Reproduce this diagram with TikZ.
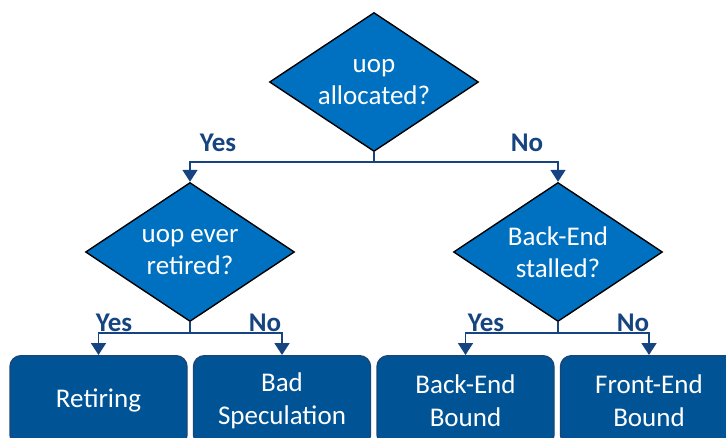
\documentclass[tikz,border=0pt]{standalone}
\usepackage{fontspec}
\setmainfont{Carlito}
\usetikzlibrary{shapes.geometric,arrows.meta,calc}
\definecolor{dfill}{RGB}{0,112,192}
\definecolor{bfill}{RGB}{0,84,150}
\definecolor{bline}{RGB}{25,70,120}
\definecolor{conn}{RGB}{22,68,128}
\tikzset{
  decision/.style={shape=diamond, draw=black, line width=1.4pt, fill=dfill, inner sep=-30pt,
    minimum width=209pt, minimum height=139pt, text=white, align=center,
    font=\fontsize{27}{32}\selectfont},
  outcome/.style={shape=rectangle, rounded corners=11pt, draw=bline, line width=1.4pt, fill=bfill,
    minimum width=177pt, minimum height=90pt, anchor=north, text=white, align=center,
    font=\fontsize{27}{33}\selectfont},
  conn/.style={draw=conn, line width=1.8pt, -{Triangle[width=15pt,length=12pt]}},
  lbl/.style={text=conn, font=\fontsize{27}{30}\selectfont\bfseries, inner sep=0pt}
}
\begin{document}
\begin{tikzpicture}[x=1pt,y=-1pt]
\useasboundingbox (0,0) rectangle (726,437);
\clip (0,0) rectangle (726,437);
% decisions
\node[decision] (d1) at (374,82) {uop\\allocated?};
\node[decision] (d2) at (190,252) {uop ever\\retired?};
\node[decision] (d3) at (558,252) {Back-End\\stalled?};
% outcomes
\node[outcome] (b1) at (98.5,355) {Retiring};
\node[outcome] (b2) at (282,355) {Bad\\Speculation};
\node[outcome] (b3) at (465.5,355) {Back-End\\Bound};
\node[outcome] (b4) at (649,355) {Front-End\\Bound};
% connectors
\coordinate (j1) at ($(d1.south)+(0,10)$);
\draw[conn] (d1.south) -- (j1) -| (d2.north);
\draw[conn] (j1) -| (d3.north);
\coordinate (j2) at ($(d2.south)+(0,11)$);
\draw[conn] (d2.south) -- (j2) -| (b1.north);
\draw[conn] (j2) -| (b2.north);
\coordinate (j3) at ($(d3.south)+(0,11)$);
\draw[conn] (d3.south) -- (j3) -| (b3.north);
\draw[conn] (j3) -| (b4.north);
% labels
\node[lbl] (y1) at (218,143) {Yes};
\node[lbl] (n1) at (527,143) {No};
\node[lbl] (y2) at (114,323) {Yes};
\node[lbl] (n2) at (265,323) {No};
\node[lbl] (y3) at (486,323) {Yes};
\node[lbl] (n3) at (633,323) {No};
\end{tikzpicture}
\end{document}
